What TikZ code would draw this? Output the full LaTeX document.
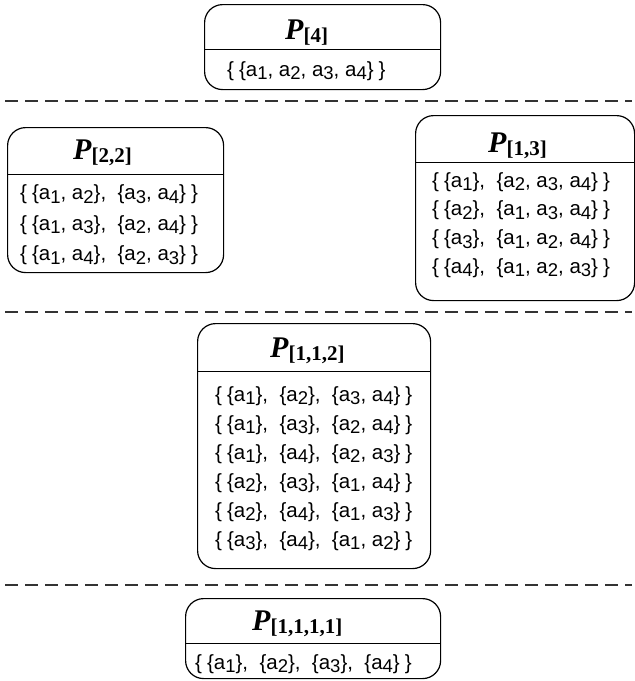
\documentclass[tikz,border=0pt]{standalone}
\usepackage{fontspec}
\setmainfont{Liberation Serif}
\newfontfamily\rowfont{Liberation Sans}
% index of an element, set a bit lower
\newcommand\ix[1]{\raisebox{-3.5pt}{\fontsize{18.5}{18.5}\selectfont #1}}
\newcommand\el[1]{a\ix{#1}}
\newcommand\grp[1]{\{#1\}}
\newcommand\prt[1]{\{\kern5pt#1\kern5pt\}}
\newcommand\ptitle[1]{\textbf{\textit{P}}\raisebox{-3pt}{\fontsize{21}{21}\selectfont\bfseries\upshape[#1]}}

\begin{document}
\begin{tikzpicture}[
    x=1pt,y=-1pt,
    block/.style={draw=black,rounded corners=18pt,line width=1.2pt,inner sep=0pt,anchor=north west},
    divider/.style={draw=black,line width=0.9pt},
    level/.style={draw=black!80,line width=1.2pt,dash pattern=on 13pt off 7pt},
    title/.style={anchor=base west,inner sep=0pt,font=\fontsize{30}{30}\selectfont},
    row/.style={anchor=base west,inner sep=0pt,font=\rowfont\fontsize{20.5}{20.5}\selectfont},
	]
\def\sep{29} % distance between two rows

\useasboundingbox (0,0) rectangle (635,681);

    %% one block
    \node[block,minimum width=236pt,minimum height=85pt] (b1) at (204,4) {};
    \draw[divider] (b1.north west) ++(0,45) -- ++(236,0);
    \node[title] (t1) at (285,39) {\ptitle{4}};
    \node[row] (r1-1) at (227,76) {\prt{\grp{\el1, \el2, \el3, \el4}}};

    \draw[level] (5,101) -- (632,101);

    %% two blocks
    \node[block,minimum width=216pt,minimum height=145pt] (b2) at (7,127) {};
    \draw[divider] (b2.north west) ++(0,47) -- ++(216,0);
    \node[title] (t2) at (73,159) {\ptitle{2,2}};
    \foreach \t [count=\i] in {
        {\grp{\el1, \el2},~~\grp{\el3, \el4}},
        {\grp{\el1, \el3},~~\grp{\el2, \el4}},
        {\grp{\el1, \el4},~~\grp{\el2, \el3}}}
        \node[row] (r2-\i) at (20,169+30.5*\i) {\prt{\t}};

    \node[block,minimum width=219pt,minimum height=185pt] (b3) at (415,115) {};
    \draw[divider] (b3.north west) ++(0,47) -- ++(219,0);
    \node[title] (t3) at (488,152) {\ptitle{1,3}};
    \foreach \t [count=\i] in {
        {\grp{\el1},~~\grp{\el2, \el3, \el4}},
        {\grp{\el2},~~\grp{\el1, \el3, \el4}},
        {\grp{\el3},~~\grp{\el1, \el2, \el4}},
        {\grp{\el4},~~\grp{\el1, \el2, \el3}}}
        \node[row] (r3-\i) at (432,158.5+28.7*\i) {\prt{\t}};

    \draw[level] (5,312) -- (632,312);

    %% three blocks
    \node[block,minimum width=233pt,minimum height=245pt] (b4) at (197,323) {};
    \draw[divider] (b4.north west) ++(0,48) -- ++(233,0);
    \node[title] (t4) at (270,357) {\ptitle{1,1,2}};
    \foreach \t [count=\i] in {
        {\grp{\el1},~~\grp{\el2},~~\grp{\el3, \el4}},
        {\grp{\el1},~~\grp{\el3},~~\grp{\el2, \el4}},
        {\grp{\el1},~~\grp{\el4},~~\grp{\el2, \el3}},
        {\grp{\el2},~~\grp{\el3},~~\grp{\el1, \el4}},
        {\grp{\el2},~~\grp{\el4},~~\grp{\el1, \el3}},
        {\grp{\el3},~~\grp{\el4},~~\grp{\el1, \el2}}}
        \node[row] (r4-\i) at (215,372+\sep*\i) {\prt{\t}};

    \draw[level] (5,585) -- (632,585);

    %% four blocks
    \node[block,minimum width=255pt,minimum height=80pt] (b5) at (185,598) {};
    \draw[divider] (b5.north west) ++(0,45) -- ++(255,0);
    \node[title] (t5) at (252,630) {\ptitle{1,1,1,1}};
    \node[row] (r5-1) at (195,669) {\prt{\grp{\el1},~~\grp{\el2},~~\grp{\el3},~~\grp{\el4}}};
    %%
\end{tikzpicture}
\end{document}
